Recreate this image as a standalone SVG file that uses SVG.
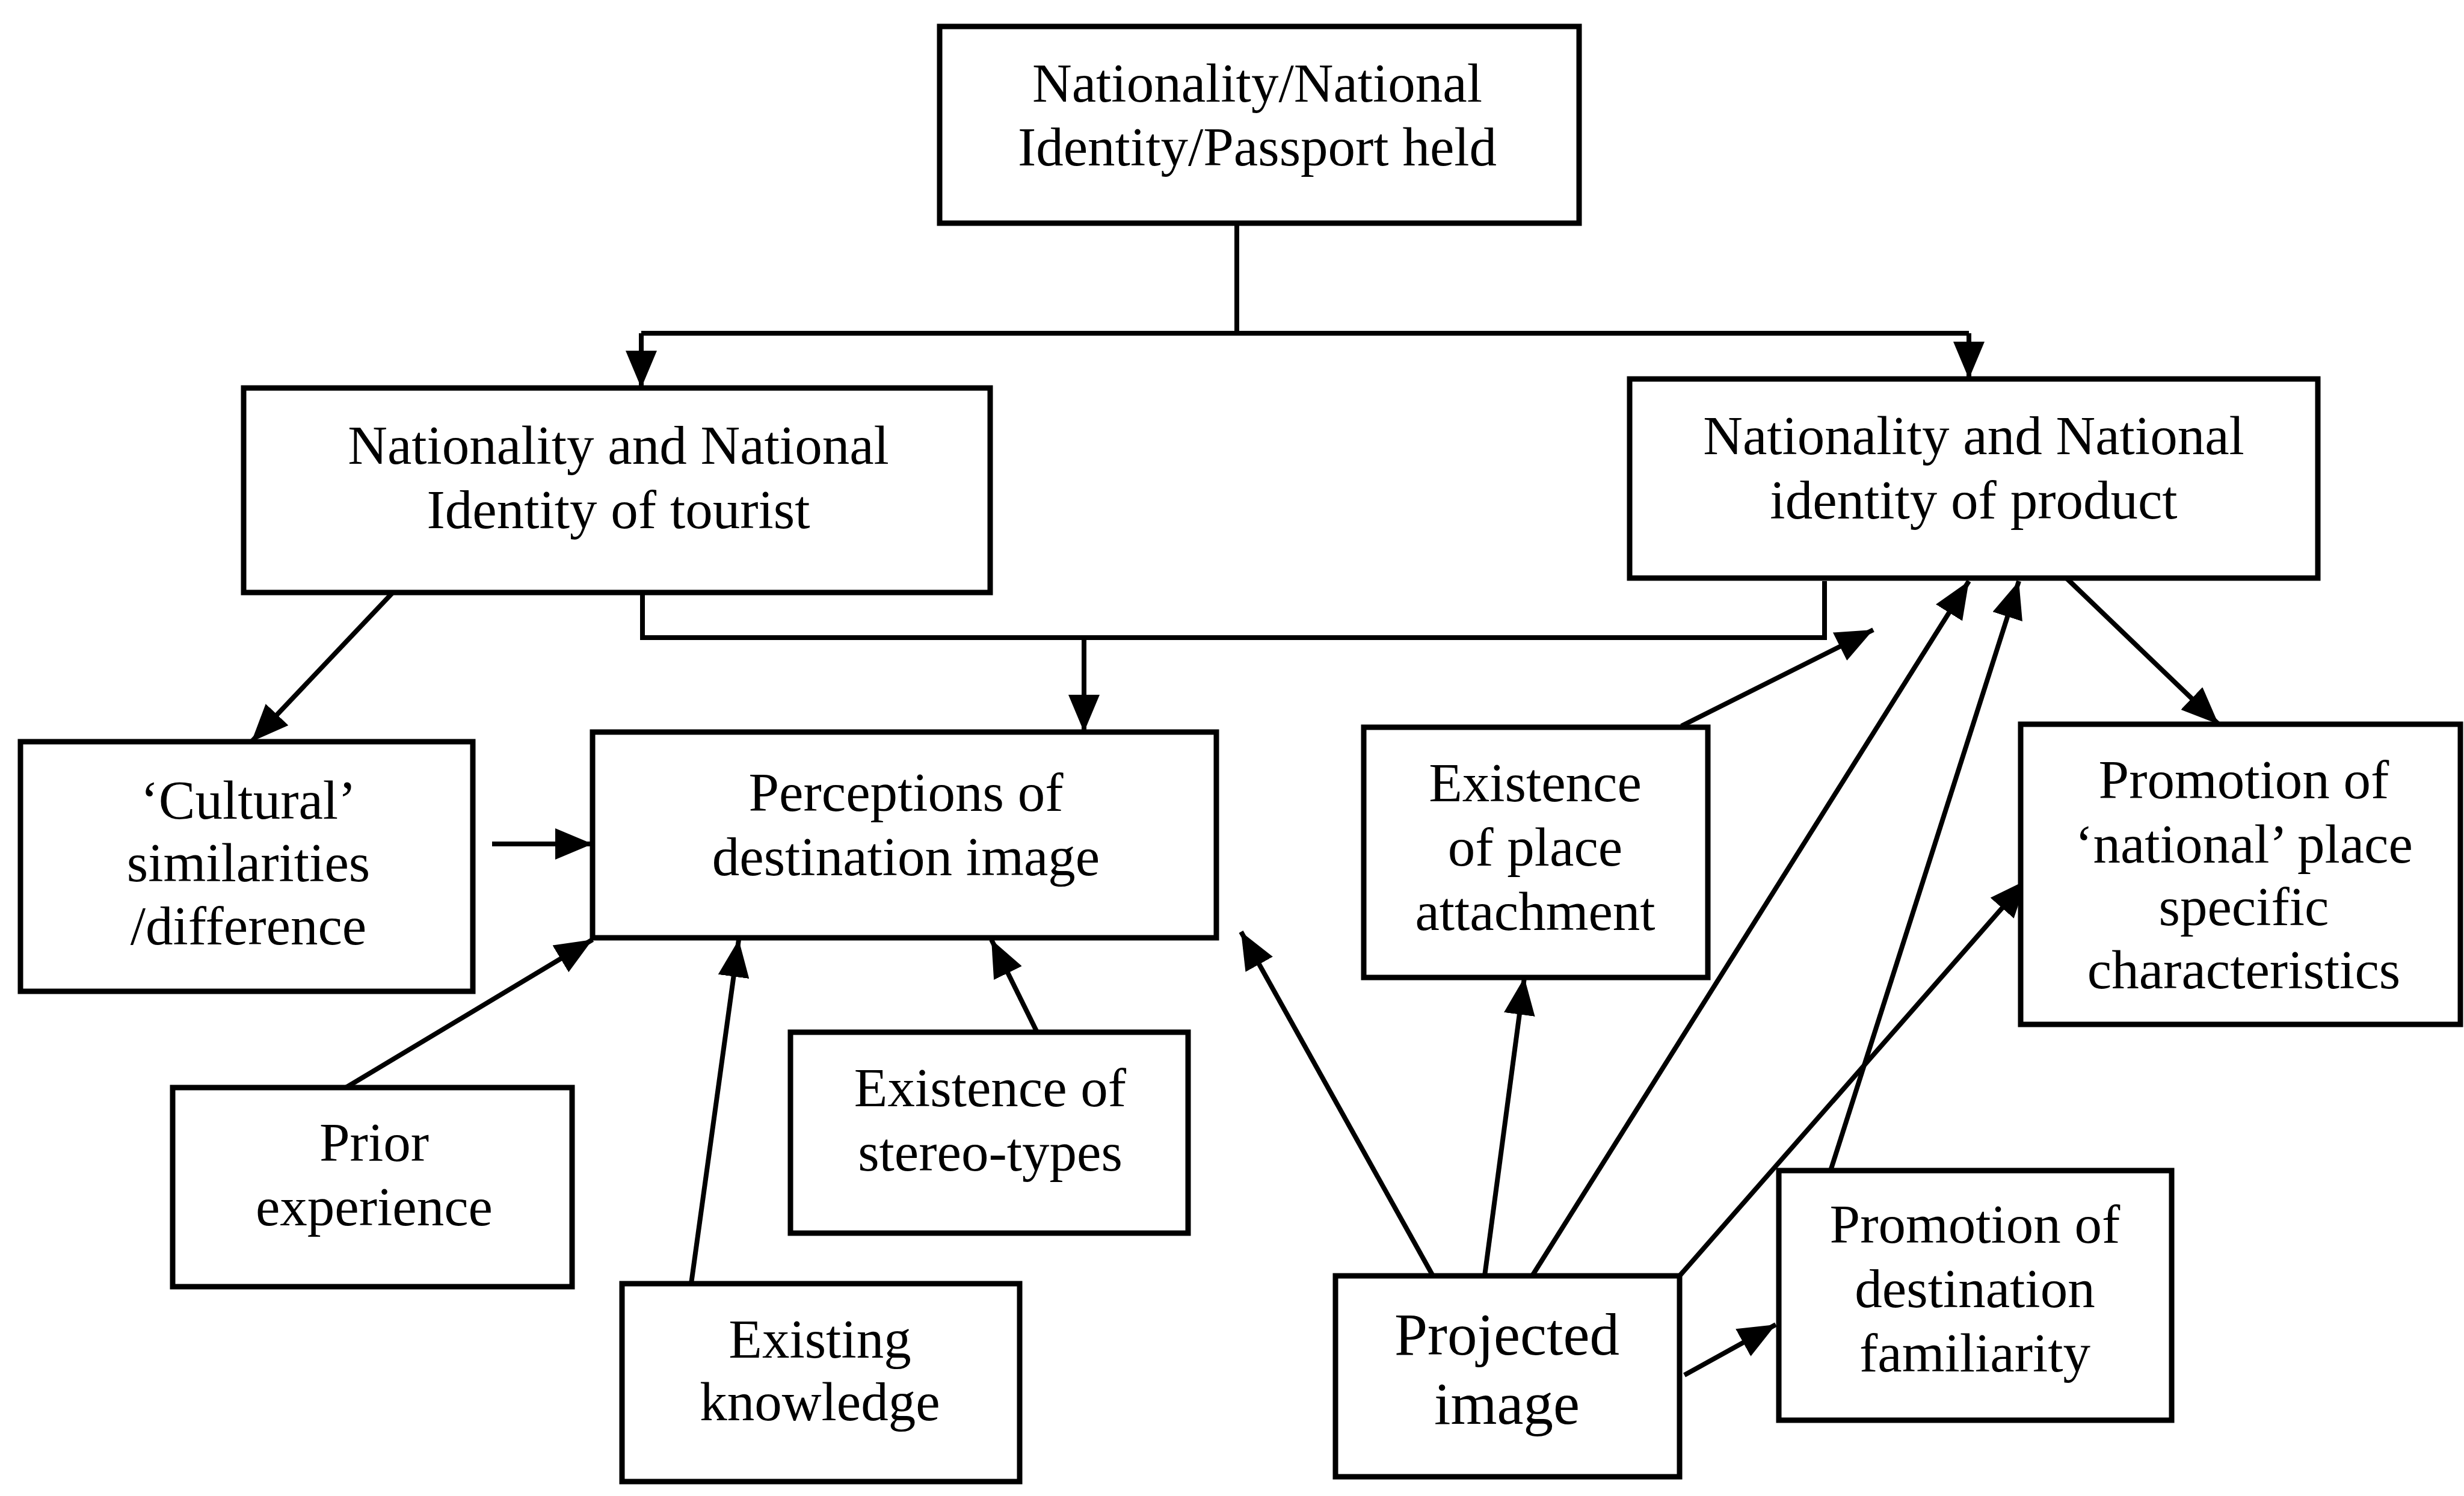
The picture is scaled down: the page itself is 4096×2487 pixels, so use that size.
<svg xmlns="http://www.w3.org/2000/svg" width="4096" height="2487" viewBox="0 0 4096 2487">
<style>
.box{fill:#fff;stroke:#000;stroke-width:9}
.t{font-family:"Liberation Serif","Times New Roman",serif;font-size:91px;text-anchor:middle;fill:#000}
.tb{font-family:"Liberation Serif","Times New Roman",serif;font-size:99px;text-anchor:middle;fill:#000}
.c{fill:none;stroke:#000;stroke-width:8}
</style>
<defs>
<marker id="ah" markerUnits="userSpaceOnUse" markerWidth="62" markerHeight="52" refX="62" refY="26" orient="auto">
<path d="M0,0 L62,26 L0,52 z" fill="#000"/>
</marker>
</defs>
<rect width="4096" height="2487" fill="#fff"/>
<g id="connectors">
<path class="c" d="M2056,371 V554"/>
<path class="c" d="M1066,554 H3273"/>
<path class="c" d="M1066,554 V645" marker-end="url(#ah)"/>
<path class="c" d="M3273,554 V630" marker-end="url(#ah)"/>
<path class="c" d="M1068,985 V1060 H3033 V966"/>
<path class="c" d="M1802,1060 V1217" marker-end="url(#ah)"/>
<path class="c" d="M653,985 L418,1233" marker-end="url(#ah)"/>
<path class="c" d="M818,1403 L985,1403" marker-end="url(#ah)"/>
<path class="c" d="M575,1808 L985,1562" marker-end="url(#ah)"/>
<path class="c" d="M1149,2134 L1228,1562" marker-end="url(#ah)"/>
<path class="c" d="M1724,1716 L1648,1562" marker-end="url(#ah)"/>
<path class="c" d="M2382,2121 L2063,1549" marker-end="url(#ah)"/>
<path class="c" d="M2468,2121 L2534,1625" marker-end="url(#ah)"/>
<path class="c" d="M2547,2121 L3273,966" marker-end="url(#ah)"/>
<path class="c" d="M2792,2121 L3369,1463" marker-end="url(#ah)"/>
<path class="c" d="M2800,2286 L2952,2202" stroke-width="11" marker-end="url(#ah)"/>
<path class="c" d="M3043,1946 L3356,966" marker-end="url(#ah)"/>
<path class="c" d="M2795,1207 L3114,1047" marker-end="url(#ah)"/>
<path class="c" d="M3435,961 L3688,1204" marker-end="url(#ah)"/>
</g>
<g id="n-passport">
<rect class="box" x="1562" y="44" width="1063" height="327"/>
<text class="t" x="2090" y="169">Nationality/National</text>
<text class="t" x="2090" y="275">Identity/Passport held</text>
</g>
<g id="n-tourist">
<rect class="box" x="405" y="645" width="1241" height="340"/>
<text class="t" x="1028" y="771">Nationality and National</text>
<text class="t" x="1028" y="878">Identity of tourist</text>
</g>
<g id="n-product">
<rect class="box" x="2709" y="630" width="1144" height="331"/>
<text class="t" x="3281" y="755">Nationality and National</text>
<text class="t" x="3281" y="862">identity of product</text>
</g>
<g id="n-cultural">
<rect class="box" x="34" y="1233" width="752" height="415"/>
<text class="t" x="413" y="1361">‘Cultural’</text>
<text class="t" x="413" y="1465">similarities</text>
<text class="t" x="413" y="1570">/difference</text>
</g>
<g id="n-perceptions">
<rect class="box" x="985" y="1217" width="1037" height="342"/>
<text class="t" x="1506" y="1348">Perceptions of</text>
<text class="t" x="1506" y="1455">destination image</text>
</g>
<g id="n-place">
<rect class="box" x="2267" y="1209" width="572" height="416"/>
<text class="t" x="2552" y="1332">Existence</text>
<text class="t" x="2552" y="1439">of place</text>
<text class="t" x="2552" y="1546">attachment</text>
</g>
<g id="n-national">
<rect class="box" x="3359" y="1204" width="731" height="499"/>
<text class="t" x="3730" y="1327">Promotion of</text>
<text class="t" x="3730" y="1434">‘national’ place</text>
<text class="t" x="3730" y="1538">specific</text>
<text class="t" x="3730" y="1643">characteristics</text>
</g>
<g id="n-prior">
<rect class="box" x="287" y="1808" width="664" height="331"/>
<text class="t" x="622" y="1930">Prior</text>
<text class="t" x="622" y="2037">experience</text>
</g>
<g id="n-stereo">
<rect class="box" x="1314" y="1716" width="661" height="334"/>
<text class="t" x="1646" y="1839">Existence of</text>
<text class="t" x="1646" y="1946">stereo-types</text>
</g>
<g id="n-knowledge">
<rect class="box" x="1034" y="2134" width="661" height="329"/>
<text class="t" x="1363" y="2257">Existing</text>
<text class="t" x="1363" y="2361">knowledge</text>
</g>
<g id="n-projected">
<rect class="box" x="2220" y="2121" width="572" height="334"/>
<text class="tb" x="2505" y="2252">Projected</text>
<text class="tb" x="2505" y="2367">image</text>
</g>
<g id="n-familiarity">
<rect class="box" x="2957" y="1946" width="653" height="415"/>
<text class="t" x="3283" y="2066">Promotion of</text>
<text class="t" x="3283" y="2173">destination</text>
<text class="t" x="3283" y="2280">familiarity</text>
</g>
</svg>
